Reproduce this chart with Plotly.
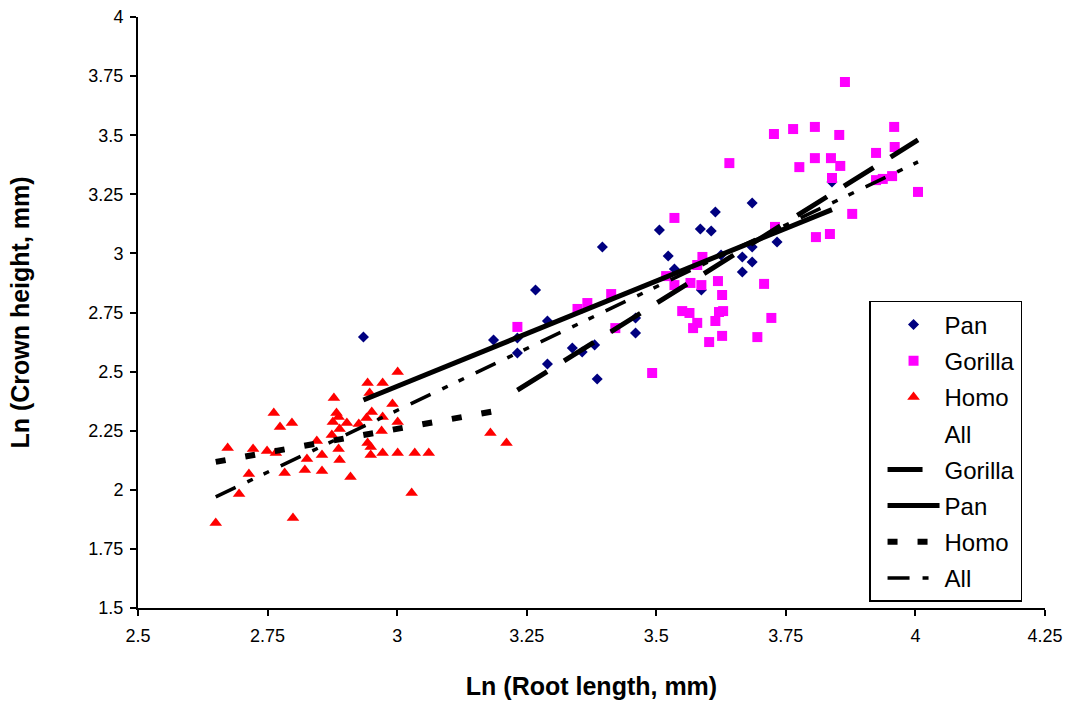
import plotly.graph_objects as go

# ---------------- data ----------------
pan_x = [2.935, 3.186, 3.232, 3.232, 3.267, 3.290, 3.290, 3.338, 3.357, 3.381,
         3.396, 3.386, 3.460, 3.460, 3.506, 3.523, 3.535, 3.585, 3.606, 3.614,
         3.685, 3.625, 3.666, 3.685, 3.733, 3.685, 3.666, 3.587, 3.839]
pan_y = [2.646, 2.634, 2.642, 2.579, 2.845, 2.714, 2.532, 2.600, 2.583, 2.613,
         3.027, 2.469, 2.663, 2.727, 3.099, 2.989, 2.934, 3.103, 3.095, 3.175,
         3.213, 2.993, 2.985, 3.027, 3.048, 2.964, 2.921, 2.845, 3.302]

gorilla_x = [3.864, 3.727, 3.764, 3.806, 3.853, 3.959, 3.960, 3.924, 3.806, 3.837,
             3.855, 3.776, 3.641, 3.839, 3.955, 3.924, 3.937, 4.005, 3.878, 3.535,
             3.808, 3.835, 3.729, 3.589, 3.579, 3.519, 3.535, 3.566, 3.587, 3.619,
             3.708, 3.627, 3.550, 3.564, 3.579, 3.571, 3.621, 3.629, 3.614, 3.722,
             3.627, 3.602, 3.695, 3.232, 3.348, 3.367, 3.413, 3.421, 3.492]
gorilla_y = [3.725, 3.505, 3.526, 3.535, 3.501, 3.535, 3.450, 3.425, 3.403, 3.403,
             3.370, 3.365, 3.382, 3.319, 3.327, 3.310, 3.315, 3.260, 3.167, 3.150,
             3.069, 3.082, 3.112, 2.985, 2.951, 2.904, 2.866, 2.875, 2.866, 2.883,
             2.871, 2.824, 2.756, 2.748, 2.706, 2.684, 2.752, 2.756, 2.714, 2.727,
             2.651, 2.625, 2.646, 2.689, 2.765, 2.790, 2.828, 2.684, 2.494]

homo_x = [3.001, 2.943, 2.972, 2.947, 2.878, 2.991, 2.762, 2.797, 2.774, 2.883,
          2.876, 2.887, 2.903, 2.926, 2.951, 2.941, 2.972, 3.001, 2.889, 2.970,
          2.874, 2.845, 2.943, 2.949, 2.673, 2.722, 2.749, 2.766, 2.887, 2.855,
          2.949, 2.972, 3.001, 3.034, 3.061, 2.826, 2.889, 2.714, 2.783, 2.822,
          2.855, 2.910, 2.695, 3.028, 2.799, 2.650, 3.180, 3.211]
homo_y = [2.498, 2.452, 2.452, 2.409, 2.388, 2.363, 2.325, 2.283, 2.266, 2.325,
          2.287, 2.308, 2.283, 2.278, 2.329, 2.304, 2.308, 2.287, 2.257, 2.249,
          2.232, 2.206, 2.198, 2.181, 2.177, 2.173, 2.164, 2.156, 2.173, 2.147,
          2.147, 2.156, 2.156, 2.156, 2.156, 2.130, 2.126, 2.067, 2.071, 2.084,
          2.080, 2.054, 1.982, 1.986, 1.881, 1.860, 2.240, 2.198]

# fitted regression lines (end points)
gorilla_fit_x = [3.232, 4.005]
gorilla_fit_y = [2.422, 3.480]
pan_fit_x = [2.935, 3.839]
pan_fit_y = [2.380, 3.185]
homo_fit_x = [2.650, 3.211]
homo_fit_y = [2.118, 2.342]
all_fit_x = [2.650, 4.005]
all_fit_y = [1.970, 3.387]

x_ticks = [2.5, 2.75, 3, 3.25, 3.5, 3.75, 4, 4.25]
y_ticks = [1.5, 1.75, 2, 2.25, 2.5, 2.75, 3, 3.25, 3.5, 3.75, 4]

# ---------------- figure ----------------
FONT = "Liberation Sans, Arial, sans-serif"
fig = go.Figure()

def pts(name, xs, ys, symbol, color, size, grp):
    fig.add_trace(go.Scatter(
        x=xs, y=ys, mode="markers", name=name, legendgroup=grp,
        marker=dict(symbol=symbol, color=color, size=size, line=dict(width=0)),
    ))

pts("Pan", pan_x, pan_y, "diamond", "#000080", 8.5, "g1")
pts("Gorilla", gorilla_x, gorilla_y, "square", "#FF00FF", 10, "g2")
pts("Homo", homo_x, homo_y, "triangle-up", "#FF0000", 11, "g3")
# "All" series: every point, drawn without visible markers
fig.add_trace(go.Scatter(
    x=pan_x + gorilla_x + homo_x, y=pan_y + gorilla_y + homo_y,
    mode="markers", name="All", legendgroup="g4",
    marker=dict(color="rgba(0,0,0,0)", size=6, line=dict(width=0)),
    hoverinfo="skip",
))

def fit(name, xs, ys, width, dash, grp):
    fig.add_trace(go.Scatter(
        x=xs, y=ys, mode="lines", name=name, legendgroup=grp,
        line=dict(color="black", width=width, dash=dash),
    ))

fit("Gorilla", gorilla_fit_x, gorilla_fit_y, 5, "35px,20px", "g5")
fit("Pan", pan_fit_x, pan_fit_y, 5, "solid", "g6")
fit("Homo", homo_fit_x, homo_fit_y, 6, "10px,20px", "g7")
fit("All", all_fit_x, all_fit_y, 3.5, "22px,13px,6px,12px,6px,13px", "g8")

axis_common = dict(
    showgrid=False, zeroline=False, showline=True, linecolor="black", linewidth=2,
    ticks="outside", ticklen=6, tickwidth=1.5, tickcolor="black", automargin=False,
    tickfont=dict(family=FONT, size=18, color="black"),
)

fig.update_layout(
    width=1070, height=702,
    margin=dict(l=138, r=25, t=17, b=94),
    paper_bgcolor="white", plot_bgcolor="white",
    font=dict(family=FONT, color="black"),
    xaxis=dict(
        range=[2.5, 4.25], tickvals=x_ticks, ticktext=[f"{v:g}" for v in x_ticks],
        title=dict(text="<b>Ln (Root length, mm)</b>", font=dict(family=FONT, size=25, color="black"), standoff=33),
        ticklabelstandoff=4,
        **axis_common,
    ),
    yaxis=dict(
        range=[1.5, 4], tickvals=y_ticks, ticktext=[f"{v:g}" for v in y_ticks],
        title=dict(text="<b>Ln (Crown height, mm)</b>", font=dict(family=FONT, size=25, color="black"), standoff=52),
        ticklabelstandoff=3,
        **axis_common,
    ),
    legend=dict(
        x=0.806, y=0.5195, xanchor="left", yanchor="top",
        bgcolor="white", bordercolor="black", borderwidth=1.5,
        font=dict(family=FONT, size=24, color="black"),
        traceorder="grouped", tracegroupgap=2, itemwidth=52, indentation=12,
    ),
    showlegend=True,
)

fig.write_html("out.html")
